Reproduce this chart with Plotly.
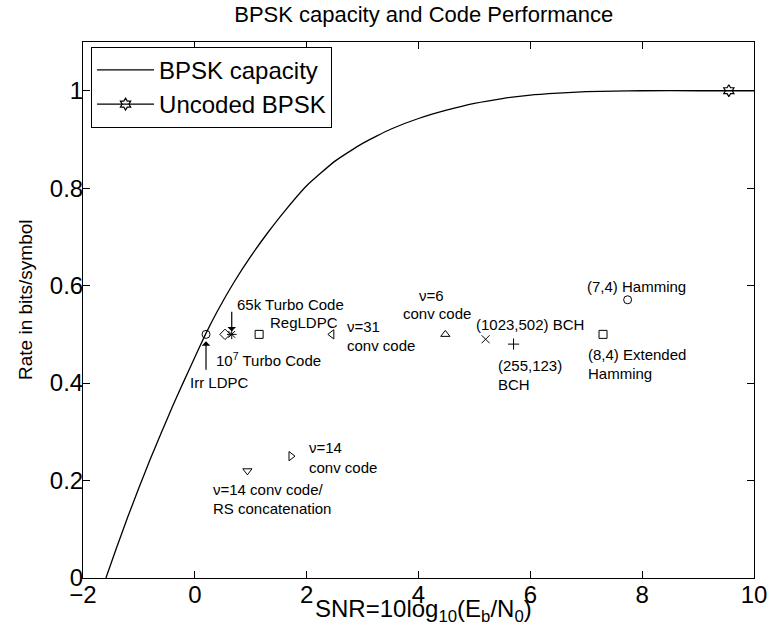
import plotly.graph_objects as go

# BPSK capacity curve (Eb/N0 in dB, rate)
cap_snr = [-1.59, -1.4, -1.2, -1.0, -0.8, -0.6, -0.4, -0.2, 0.0, 0.19, 0.4, 0.7,
           1.0, 1.3, 1.6, 2.0, 2.5, 3.0, 3.5, 4.0, 4.5, 5.0, 5.5, 6.0, 6.5, 7.0,
           7.5, 8.0, 9.0, 10.0]
cap_rate = [0.0, 0.062, 0.125, 0.185, 0.243, 0.298, 0.352, 0.403, 0.453, 0.5, 0.547, 0.607,
            0.66, 0.708, 0.752, 0.805, 0.855, 0.892, 0.921, 0.943, 0.960, 0.974,
            0.984, 0.991, 0.995, 0.998, 0.999, 1.0, 1.0, 1.0]

# Uncoded BPSK
unc_snr = [9.55]
unc_rate = [1.0]

# Code operating points
code_names = ["Irr LDPC", "10^7 Turbo", "65k Turbo", "RegLDPC", "v=31", "v=6",
              "(1023,502) BCH", "(255,123) BCH", "(7,4) Hamming", "(8,4) Ext Hamming",
              "v=14", "v=14/RS"]
code_snr = [0.2, 0.54, 0.66, 1.15, 2.45, 4.48, 5.2, 5.7, 7.74, 7.3, 1.72, 0.94]
code_rate = [0.5, 0.5, 0.5, 0.5, 0.5, 0.5, 0.49, 0.48, 0.571, 0.5, 0.25, 0.22]
code_symbols = ["circle-open", "diamond-open", "asterisk-open", "square-open",
                "triangle-left-open", "triangle-up-open", "x-thin-open", "cross-thin-open",
                "circle-open", "square-open", "triangle-right-open", "triangle-down-open"]

# Labels: (point index, text, xshift, yshift)
labels = [
    (2, "65k Turbo Code", 3, 30),
    (0, "10<sup>7</sup> Turbo Code", 8, -25),
    (0, "Irr LDPC", -18, -48),
    (3, "RegLDPC", 9, 12),
    (4, "ν=31", 13, 8),
    (4, "conv code", 13, -11),
    (5, "ν=6", -28, 38.5),
    (5, "conv code", -44, 20.5),
    (6, "(1023,502) BCH", -12, 15),
    (7, "(255,123)", -18, -21),
    (7, "BCH", -18, -40),
    (8, "(7,4) Hamming", -43, 13),
    (9, "(8,4) Extended", -17, -20),
    (9, "Hamming", -17, -39),
    (10, "ν=14", 16, 9),
    (10, "conv code", 16, -11),
    (11, "ν=14 conv code/", -36, -19),
    (11, "RS concatenation", -36, -38),
]

FONT = "Liberation Sans, Arial, Helvetica, sans-serif"

fig = go.Figure()
fig.add_trace(go.Scatter(x=cap_snr, y=cap_rate, mode="lines", name="BPSK capacity",
                         line=dict(color="black", width=1.3, shape="spline", smoothing=0.4)))
fig.add_trace(go.Scatter(x=unc_snr, y=unc_rate, mode="lines+markers", name="Uncoded BPSK",
                         line=dict(color="black", width=1.3),
                         marker=dict(symbol="hexagram-open", size=9, color="black",
                                     line=dict(width=1.2, color="black"))))
fig.add_trace(go.Scatter(x=code_snr, y=code_rate, mode="markers", showlegend=False,
                         text=code_names, hoverinfo="text",
                         marker=dict(symbol=code_symbols, size=8, color="black",
                                     line=dict(width=1, color="black"))))

for idx, txt, dx, dy in labels:
    fig.add_annotation(x=code_snr[idx], y=code_rate[idx], text=txt, showarrow=False,
                       xanchor="left", yanchor="middle", xshift=dx, yshift=dy,
                       font=dict(size=15, color="black", family=FONT))

# Arrows
fig.add_annotation(x=code_snr[2], y=code_rate[2], text="", showarrow=True,
                   ax=0, ay=-24, axref="pixel", ayref="pixel", arrowhead=1,
                   arrowsize=1.2, arrowwidth=1.2, arrowcolor="black", standoff=3)
fig.add_annotation(x=code_snr[0], y=code_rate[0], text="", showarrow=True,
                   ax=0, ay=37, axref="pixel", ayref="pixel", arrowhead=1,
                   arrowsize=1.2, arrowwidth=1.2, arrowcolor="black", standoff=7)

# Axis titles as annotations for exact placement
fig.add_annotation(xref="paper", yref="paper", x=0.507, y=0, yshift=-32,
                   text="SNR=10log<sub>10</sub>(E<sub>b</sub>/N<sub>0</sub>)",
                   showarrow=False, xanchor="center", yanchor="middle",
                   font=dict(size=24, color="black", family=FONT))
fig.add_annotation(xref="paper", yref="paper", x=0, xshift=-58, y=0.5, yshift=10,
                   text="Rate in bits/symbol", textangle=-90,
                   showarrow=False, xanchor="center", yanchor="middle",
                   font=dict(size=19, color="black", family=FONT))

axis_common = dict(showgrid=False, zeroline=False, showline=True, linecolor="black",
                   linewidth=1, mirror="allticks", ticks="inside", ticklen=7,
                   tickcolor="black", tickfont=dict(size=24, color="black", family=FONT))

fig.update_xaxes(range=[-2, 10], dtick=2, tick0=-2, ticklabelstandoff=-5, **axis_common)
fig.update_yaxes(range=[0, 1.1], dtick=0.2, tick0=0, ticklabelstandoff=-6, **axis_common)

fig.update_layout(
    width=779, height=643,
    margin=dict(l=83, r=15, t=42, b=65),
    paper_bgcolor="white", plot_bgcolor="white",
    title=dict(text="BPSK capacity and Code Performance", x=0.544, xanchor="center",
               y=0.978, yanchor="middle",
               font=dict(size=22, color="black", family=FONT)),
    legend=dict(x=0.012, y=0.991, xanchor="left", yanchor="top",
                bgcolor="white", bordercolor="black", borderwidth=1,
                font=dict(size=24, color="black", family=FONT),
                tracegroupgap=0, itemwidth=57),
    showlegend=True,
)

fig.write_html("out.html")
